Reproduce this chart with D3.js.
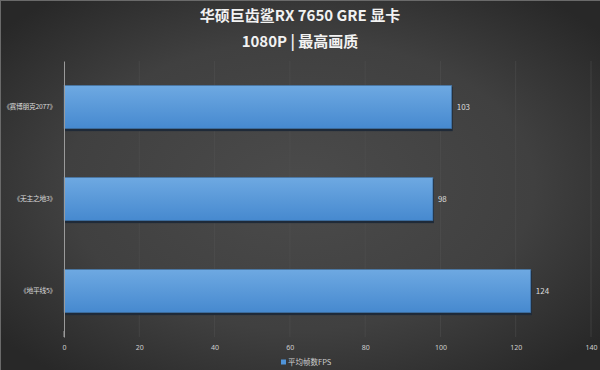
<!DOCTYPE html>
<html>
<head>
<meta charset="utf-8">
<script src="https://cdn.jsdelivr.net/npm/d3@7.9.0/dist/d3.min.js"></script>
<style>
  body { margin: 0; background: #333; }
  svg { display: block; font-family: "Noto Sans CJK SC", "Noto Sans", sans-serif; }
</style>
</head>
<body>
<svg id="chart" width="600" height="370"></svg>
<script>
const titleLines = ['华硕巨齿鲨RX 7650 GRE 显卡', '1080P | 最高画质'];
const games = ['《赛博朋克2077》', '《无主之地3》', '《地平线5》'];
const fps = [103, 98, 124];
const xTicks = [0, 20, 40, 60, 80, 100, 120, 140];
const seriesName = '平均帧数FPS';

const W = 600, H = 370;
const margin = { top: 61, right: 9, bottom: 33, left: 64 };

const svg = d3.select('#chart');
const defs = svg.append('defs');

// background: lighter in the middle, darker at the edges
const bg = defs.append('radialGradient').attr('id', 'bg')
  .attr('cx', '50%').attr('cy', '50%').attr('r', '65%');
bg.append('stop').attr('offset', '0%').attr('stop-color', '#4b4b4b');
bg.append('stop').attr('offset', '60%').attr('stop-color', '#404040');
bg.append('stop').attr('offset', '100%').attr('stop-color', '#282828');

const barGrad = defs.append('linearGradient').attr('id', 'bar')
  .attr('x1', 0).attr('y1', 0).attr('x2', 0).attr('y2', 1);
barGrad.append('stop').attr('offset', '0%').attr('stop-color', '#6ea9e2');
barGrad.append('stop').attr('offset', '100%').attr('stop-color', '#4689cf');

svg.append('rect').attr('width', W).attr('height', H).attr('fill', 'url(#bg)');
// thin light frame on top and left
svg.append('line').attr('x1', 0).attr('x2', W).attr('y1', 0.5).attr('y2', 0.5)
  .attr('stroke', '#6a6a6a');
svg.append('line').attr('x1', 0.5).attr('x2', 0.5).attr('y1', 0).attr('y2', H)
  .attr('stroke', '#6a6a6a');

// titles
svg.append('text').attr('x', W / 2).attr('y', 21).attr('text-anchor', 'middle')
  .attr('fill', '#f2f2f2').attr('font-size', 15).attr('font-weight', 'bold')
  .text(titleLines[0]);
svg.append('text').attr('x', W / 2).attr('y', 47).attr('text-anchor', 'middle')
  .attr('fill', '#f2f2f2').attr('font-size', 15).attr('font-weight', 'bold')
  .text(titleLines[1]);

const x = d3.scaleLinear().domain([0, 140]).range([margin.left, W - margin.right]);
const y = d3.scaleBand().domain(games)
  .range([margin.top, H - margin.bottom]).paddingInner(0.53).paddingOuter(0.265);

// gridlines
svg.append('g').selectAll('line').data(xTicks.slice(1)).join('line')
  .attr('x1', d => x(d)).attr('x2', d => x(d))
  .attr('y1', margin.top).attr('y2', H - margin.bottom)
  .attr('stroke', '#555').attr('stroke-opacity', 0.45);

// bars with a dark shadow under them
svg.append('g').selectAll('rect').data(games).join('rect')
  .attr('x', x(0)).attr('y', d => y(d) + 1.5)
  .attr('width', (d, i) => x(fps[i]) - x(0) + 1)
  .attr('height', y.bandwidth() + 1)
  .attr('fill', '#1f2a38');
svg.append('g').selectAll('rect').data(games).join('rect')
  .attr('x', x(0)).attr('y', d => y(d))
  .attr('width', (d, i) => x(fps[i]) - x(0))
  .attr('height', y.bandwidth())
  .attr('fill', 'url(#bar)')
  .attr('stroke', '#3f6f9f').attr('stroke-width', 0.6);

// value labels
svg.append('g').selectAll('text').data(games).join('text')
  .attr('x', (d, i) => x(fps[i]) + 5)
  .attr('y', d => y(d) + y.bandwidth() / 2)
  .attr('dy', '0.35em').attr('fill', '#dcdcdc').attr('font-size', 8)
  .text((d, i) => fps[i]);

// y axis
const yAxis = svg.append('g').attr('transform', `translate(${margin.left},0)`)
  .call(d3.axisLeft(y).tickSize(0).tickPadding(8));
yAxis.select('.domain').attr('stroke', '#9a9a9a');
yAxis.selectAll('text').attr('fill', '#dcdcdc').attr('font-size', 6.8)
  .attr('letter-spacing', -0.3)
  .attr('font-family', '"Noto Sans CJK SC", sans-serif');

// x axis
const xAxis = svg.append('g').attr('transform', `translate(0,${H - margin.bottom})`)
  .call(d3.axisBottom(x).tickValues(xTicks).tickSize(0).tickPadding(8));
xAxis.select('.domain').remove();
xAxis.selectAll('text').attr('fill', '#cfcfcf').attr('font-size', 7)
  .attr('font-family', '"Noto Sans", sans-serif');
svg.append('line').attr('x1', x(0)).attr('x2', x(0))
  .attr('y1', H - margin.bottom - 6).attr('y2', H - margin.bottom)
  .attr('stroke', '#9a9a9a');

// legend
svg.append('rect').attr('x', 281).attr('y', 359.5).attr('width', 5).attr('height', 5)
  .attr('fill', '#4f93d8');
svg.append('text').attr('x', 288).attr('y', 362).attr('dy', '0.35em')
  .attr('fill', '#cfcfcf').attr('font-size', 7.5)
  .text(seriesName);
</script>
</body>
</html>
